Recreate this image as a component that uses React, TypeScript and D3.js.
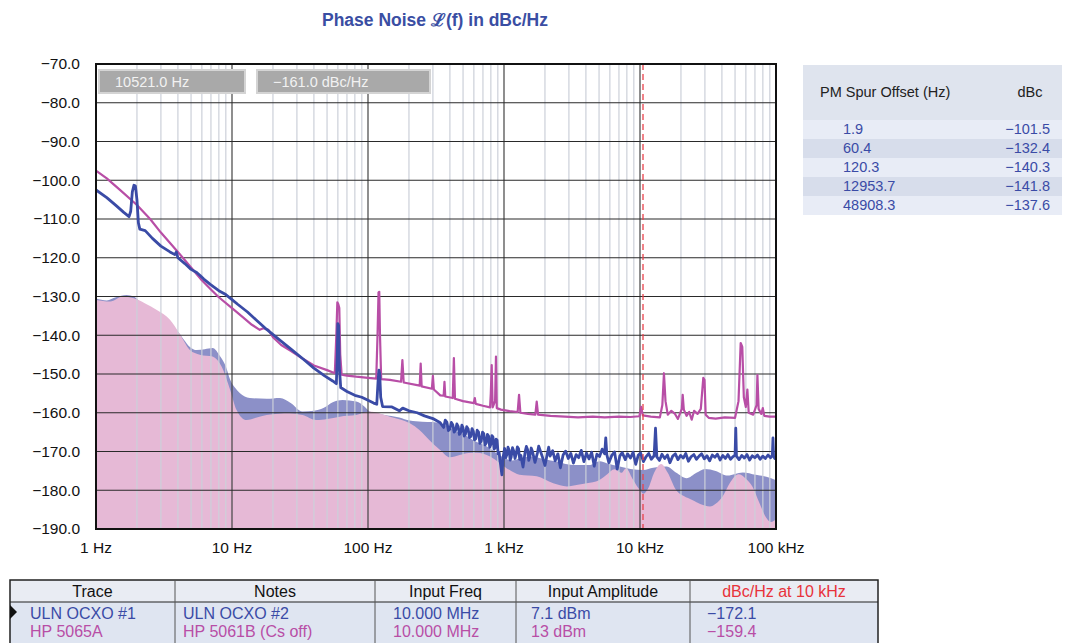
import React, { useEffect, useRef } from 'react';
import * as d3 from 'd3';

const yTicks = [-70, -80, -90, -100, -110, -120, -130, -140, -150, -160, -170, -180, -190];
const xTicks = [1, 10, 100, 1000, 10000, 100000];
const xTickLabels = ['1 Hz', '10 Hz', '100 Hz', '1 kHz', '10 kHz', '100 kHz'];

const markerFreq = 10521.0;
const markerLevel = -161.0;

const spurOffsets = ['1.9', '60.4', '120.3', '12953.7', '48908.3'];
const spurLevels = ['\u2212101.5', '\u2212132.4', '\u2212140.3', '\u2212141.8', '\u2212137.6'];

const tableHeaders = ['Trace', 'Notes', 'Input Freq', 'Input Amplitude', 'dBc/Hz at 10 kHz'];
const traceNames = ['ULN OCXO #1', 'HP 5065A'];
const traceNotes = ['ULN OCXO #2', 'HP 5061B (Cs off)'];
const inputFreqs = ['10.000 MHz', '10.000 MHz'];
const inputAmps = ['7.1 dBm', '13 dBm'];
const at10k = ['\u2212172.1', '\u2212159.4'];

// ULN OCXO #1 measured trace [Hz, dBc/Hz]
const ulnTrace: [number, number][] = [
  [1, -102.5], [1.2, -104.5], [1.4, -106.5], [1.6, -108.3], [1.75, -109.4], [1.8, -108], [1.85, -103],
  [1.9, -101.3], [1.95, -101.5], [2.0, -105], [2.05, -111], [2.1, -112.6], [2.3, -113], [2.6, -115],
  [3.0, -117], [3.5, -118.5], [3.8, -119.2], [3.9, -118.5], [4.0, -120], [4.5, -121.5], [5, -123],
  [5.5, -123.8], [5.8, -124.5], [6.2, -125.5], [7, -127], [8, -128.5], [9, -129.5], [10, -130.8],
  [11, -132], [13, -134], [15, -136], [18, -138.5], [22, -141], [27, -143.5], [33, -146], [40, -148.5],
  [48, -150.5], [55, -151.8], [58.5, -152.5], [59.5, -145], [60, -137], [60.8, -137.5], [61.5, -148],
  [63, -153.5], [70, -154.5], [80, -155.5], [90, -156], [100, -156.8], [110, -157.5], [116, -157.8],
  [118.5, -152], [120.3, -149], [122, -150], [124, -156], [128, -158.4], [150, -158.5], [170, -159.5],
  [180, -158.8], [200, -159.5], [230, -160], [260, -160.8], [300, -161.5], [340, -162.6],
  [360, -163.8], [370, -161.9], [380, -162.4], [390, -164.6], [400, -164.2], [410, -162.5], [420, -163.1],
  [430, -165.0], [440, -164.6], [450, -162.9], [460, -163.5], [470, -165.6], [480, -165.2], [490, -163.2],
  [500, -163.9], [510, -166.0], [520, -165.6], [532, -163.6], [545, -164.2], [558, -166.4], [570, -166.1],
  [582, -164.1], [595, -164.8], [607, -167.0], [620, -166.7], [635, -164.5], [650, -165.0], [665, -167.9],
  [680, -167.3], [695, -165.0], [710, -165.4], [725, -168.3], [740, -167.8], [755, -165.6], [770, -166.0],
  [785, -168.9], [800, -168.2], [815, -165.9], [830, -166.3], [845, -169.4], [860, -169.0], [875, -166.8],
  [890, -167.1], [905, -170.6], [920, -170.2], [945, -173.5], [965, -176.0], [985, -171.5], [1010, -169.2],
  [1030, -171.6], [1050, -170.8], [1070, -168.9], [1090, -169.6], [1110, -172.2], [1130, -171.4],
  [1155, -169.0], [1180, -169.9], [1205, -171.8], [1230, -170.6], [1255, -168.8], [1280, -169.3],
  [1305, -172.0], [1330, -171.0], [1380, -174.0], [1430, -170.1], [1460, -168.7], [1490, -169.5],
  [1520, -172.3], [1550, -171.3], [1585, -169.1], [1620, -170.0], [1690, -172.8], [1760, -170.4],
  [1800, -168.6], [1840, -169.6], [1920, -171.5], [2000, -173.6], [2090, -170.3], [2130, -168.9],
  [2180, -171.2], [2280, -169.8], [2380, -172.4], [2490, -170.6], [2600, -174.2], [2720, -170.9],
  [2840, -169.9], [2970, -171.8], [3100, -170.5], [3240, -173.0], [3390, -170.8], [3540, -171.6],
  [3700, -169.7], [3870, -172.6], [4040, -170.4], [4220, -171.9], [4410, -170.2], [4610, -173.8],
  [4820, -170.7], [5040, -171.3], [5270, -169.4], [5500, -170.6], [5600, -166.5], [5700, -170.8],
  [5900, -172.9], [6200, -171.0], [6500, -170.1], [6800, -174.5], [7100, -171.2], [7400, -170.3],
  [7800, -172.1], [8100, -170.6], [8500, -171.7], [8900, -170.2], [9300, -173.3], [9700, -171.0],
  [10100, -170.4], [10600, -172.6], [11100, -171.3], [11600, -170.5], [12100, -172.0], [12700, -171.1],
  [13000, -164.0], [13300, -171.4], [13900, -172.3], [14500, -170.7], [15200, -171.8], [15900, -170.9],
  [16600, -172.9], [17400, -171.2], [18200, -170.6], [19000, -172.1], [19900, -171.0], [20800, -171.7],
  [21700, -170.5], [22700, -172.5], [23800, -171.3], [24900, -170.8], [26000, -172.0], [27200, -171.2],
  [28400, -170.6], [29700, -171.9], [31100, -171.1], [32500, -172.4], [34000, -170.9], [35500, -171.5],
  [37100, -170.7], [38800, -172.2], [40600, -171.0], [42400, -171.8], [44300, -170.8], [46300, -172.0],
  [48400, -171.3], [50000, -170.9], [50600, -164.0], [51200, -171.2], [53500, -172.1], [56000, -171.0],
  [58500, -171.7], [61200, -170.8], [64000, -172.2], [66900, -171.1], [69900, -171.6], [73100, -170.9],
  [76400, -172.0], [79900, -171.2], [83500, -171.8], [87300, -170.9], [91300, -171.6], [94000, -171.0],
  [95000, -166.5], [96000, -171.3], [98000, -171.8], [100000, -171.4],
];

// HP 5065A measured trace
const hpTrace: [number, number][] = [
  [1, -97.5], [1.2, -99.5], [1.5, -102.5], [2, -106.4], [2.5, -110], [3, -113.5], [4, -118.5], [5, -122.5],
  [6, -125.8], [7, -128.2], [8, -130.2], [10, -133], [12, -135.3], [14, -137.3], [16, -138.6], [17, -138.2],
  [18.5, -138.6], [20, -140.5], [23, -142.5], [27, -144], [33, -146], [40, -147.8], [50, -149], [57, -149.8],
  [58.5, -140], [59.5, -131.5], [60.5, -132], [61.5, -133], [62.5, -145], [64, -150.2], [70, -150.4],
  [82, -150.7], [100, -151], [115, -151.2], [117.5, -140], [119.5, -129], [121, -128.8], [122.5, -140],
  [125, -151.3], [145, -151.5], [175, -152], [179, -146.4], [183, -152.2], [240, -153], [244, -147.3],
  [248, -153.2], [295, -153.8], [300, -150.5], [305, -154], [340, -155.5], [360, -155.6], [365, -152],
  [370, -155.8], [420, -156.2], [428, -145.9], [436, -156.4], [500, -157], [600, -157.5], [610, -156.2],
  [620, -157.7], [700, -158.2], [790, -158.6], [800, -155], [812, -147.7], [825, -158.6], [860, -157],
  [873, -145.5], [885, -158.8], [950, -159.2], [1100, -159.6], [1260, -159.8], [1290, -155.4], [1320, -160],
  [1500, -160.3], [1700, -160.5], [1740, -157.1], [1780, -160.5], [2200, -160.8], [2800, -161], [3500, -161.2],
  [4500, -161], [5500, -161.2], [7000, -161], [8500, -161.1], [9900, -160.9], [10200, -158.5], [10500, -160.7],
  [12000, -161], [14000, -161.2], [14600, -158], [15000, -149.8], [15400, -157], [16000, -160.5],
  [17000, -159.5], [18000, -160.2], [19000, -161.6], [20300, -159], [20600, -155.4], [21000, -159.2],
  [22000, -160.8], [23000, -159.8], [24000, -161.8], [25000, -159.5], [26500, -160.3], [28000, -159],
  [29200, -151], [29800, -151.5], [30400, -160.5], [32000, -161.3], [36000, -161.5], [42000, -161.2],
  [50000, -161.3], [53000, -157], [55000, -142], [56500, -143], [58000, -156], [60000, -158.5],
  [61600, -154], [63000, -160], [68000, -160.5], [72000, -158], [73000, -150.3], [74500, -159],
  [78000, -160.3], [80000, -158.8], [82000, -160.8], [90000, -161], [100000, -161],
];

// system noise floors (filled)
const ulnFloor: [number, number][] = [
  [1, -130.5], [1.2, -131], [1.4, -130.2], [1.68, -129.6], [1.9, -130], [2.1, -131.3], [2.5, -132.8],
  [3, -134.5], [3.5, -136.8], [3.9, -138.6], [4.4, -141], [4.9, -143], [5.5, -143.8], [6.3, -143.6],
  [7.2, -143.3], [8.2, -145.5], [9, -148], [9.7, -151.5], [10.5, -153.5], [11.4, -154.9], [13.5, -156.2],
  [18, -156.4], [22.5, -156.2], [27, -157.5], [33, -159.7], [40, -159.5], [47, -158.8], [55, -157.3],
  [65, -156.7], [82, -157.1], [95, -158.5], [103, -159.7], [130, -160.5], [170, -161.2], [203, -162],
  [250, -162.3], [300, -162.4], [338, -162.7], [400, -163.8], [450, -164.9], [520, -165.8], [590, -167],
  [700, -168.2], [790, -169.2], [960, -171.3], [1150, -172.3], [1300, -171.8], [1560, -171.3], [2000, -172],
  [2430, -172.6], [3200, -173.5], [4230, -173.5], [5070, -172.5], [5680, -173], [7100, -173.9],
  [8500, -174.5], [10600, -174.8], [12500, -174.2], [15700, -173.9], [18500, -175.5], [22000, -176.9],
  [26000, -175.5], [30000, -174.5], [36000, -175], [44000, -176.2], [50000, -175.8], [57000, -175.4],
  [71000, -176], [85000, -176.5], [100000, -177.4],
];

const hpFloor: [number, number][] = [
  [1, -130.9], [1.27, -131.3], [1.58, -130], [1.87, -130.4], [2.3, -131.8], [2.8, -133.5], [3.5, -136],
  [4.1, -139.5], [4.9, -143.8], [5.8, -145], [7.2, -145.5], [8.4, -148.1], [9.7, -154.1], [10.8, -159.3],
  [12.8, -161.9], [15, -161.3], [18, -160.6], [26.6, -160.1], [33, -160.6], [41.7, -161.9], [50, -161.6],
  [62, -161], [82, -160.6], [103, -159.7], [125, -160.3], [145, -161], [175, -161.8], [203, -162.7],
  [240, -164.5], [282, -167], [339, -169.6], [400, -171.5], [472, -170.9], [550, -170.4], [630, -170.3],
  [790, -171.3], [930, -173], [1100, -174.8], [1300, -176], [1500, -176.2], [1740, -176.4], [2300, -178.2],
  [2900, -179], [3500, -178.6], [4060, -178.2], [5000, -177.4], [5680, -176], [6500, -174.6], [7300, -175.5],
  [7900, -174.3], [8800, -177], [10000, -180], [10600, -180.9], [11500, -179.5], [12700, -175.5],
  [14300, -173.2], [16000, -175.5], [18300, -179.8], [21000, -181.5], [24200, -182.5], [28000, -183.6],
  [32700, -184.2], [36000, -183.5], [40500, -181.6], [46000, -178], [53000, -175.9], [60000, -177],
  [67000, -179], [75000, -183], [84500, -187], [92000, -188.2], [100000, -187.5],
];

const BLUE = '#3a4ba6';
const MAGENTA = '#b84ea6';
const FONT = '"Liberation Sans", Arial, sans-serif';
const NARROW = '"Liberation Sans Narrow", "Liberation Sans", Arial, sans-serif';

function PhaseNoiseChart() {
  const svgRef = useRef<SVGSVGElement>(null);

  useEffect(() => {
    const width = 1067;
    const height = 643;
    const left = 96, right = 776, top = 64, bottom = 529;

    const svg = d3.select(svgRef.current).attr('width', width).attr('height', height);
    svg.selectAll('*').remove();

    const x = d3.scaleLog().domain([1, 100000]).range([left, right]);
    const y = d3.scaleLinear().domain([-190, -70]).range([bottom, top]);

    svg.append('rect').attr('width', width).attr('height', height).attr('fill', '#fff');

    svg.append('text')
      .attr('x', 435).attr('y', 26)
      .attr('text-anchor', 'middle')
      .style('font-family', FONT).style('font-size', '17.5px').style('font-weight', 'bold')
      .attr('fill', '#3a4ea3')
      .text('Phase Noise \u2112(f) in dBc/Hz');

    svg.append('defs').append('clipPath').attr('id', 'plotclip')
      .append('rect').attr('x', left).attr('y', top).attr('width', right - left).attr('height', bottom - top);

    const plot = svg.append('g').attr('clip-path', 'url(#plotclip)');

    const area = d3.area<[number, number]>()
      .x((d) => x(d[0]))
      .y0(y(-190))
      .y1((d) => y(d[1]))
      .curve(d3.curveMonotoneX);

    plot.append('path').attr('d', area(ulnFloor)).attr('fill', '#8c90c8');
    plot.append('path').attr('d', area(hpFloor)).attr('fill', '#e6b9d6');

    // minor verticals
    const minor: number[] = [];
    for (let dec = 1; dec < 100000; dec *= 10) {
      for (let k = 2; k <= 9; k++) minor.push(dec * k);
    }
    plot.selectAll('.minor').data(minor).enter().append('line')
      .attr('x1', (d) => x(d)).attr('x2', (d) => x(d))
      .attr('y1', top).attr('y2', bottom)
      .attr('stroke', '#cdd1da').attr('stroke-width', 1.5).attr('opacity', 0.8);

    plot.selectAll('.major').data(xTicks).enter().append('line')
      .attr('x1', (d) => x(d)).attr('x2', (d) => x(d))
      .attr('y1', top).attr('y2', bottom)
      .attr('stroke', '#444').attr('stroke-width', 1.2);

    plot.selectAll('.hgrid').data(yTicks).enter().append('line')
      .attr('x1', left).attr('x2', right)
      .attr('y1', (d) => y(d)).attr('y2', (d) => y(d))
      .attr('stroke', '#2a2a2a').attr('stroke-width', 1.2);

    const line = d3.line<[number, number]>()
      .x((d) => x(d[0]))
      .y((d) => y(d[1]));

    plot.append('path').attr('d', line(hpTrace))
      .attr('fill', 'none').attr('stroke', MAGENTA).attr('stroke-width', 2.2).attr('stroke-linejoin', 'round');
    plot.append('path').attr('d', line(ulnTrace))
      .attr('fill', 'none').attr('stroke', BLUE).attr('stroke-width', 2.8).attr('stroke-linejoin', 'round');

    plot.append('line')
      .attr('x1', x(markerFreq)).attr('x2', x(markerFreq))
      .attr('y1', top).attr('y2', bottom)
      .attr('stroke', '#e8404a').attr('stroke-width', 1.3).attr('stroke-dasharray', '6,4');

    svg.append('rect')
      .attr('x', left).attr('y', top).attr('width', right - left).attr('height', bottom - top)
      .attr('fill', 'none').attr('stroke', '#111').attr('stroke-width', 2);

    // marker readouts
    const readouts = [
      { x0: 99, w: 146, label: `${markerFreq.toFixed(1)} Hz` },
      { x0: 257, w: 173, label: `\u2212${Math.abs(markerLevel).toFixed(1)} dBc/Hz` },
    ];
    readouts.forEach((r) => {
      svg.append('rect').attr('x', r.x0).attr('y', 70).attr('width', r.w).attr('height', 23)
        .attr('fill', '#a9a9a9').attr('stroke', '#d4d4d4').attr('stroke-width', 2);
      svg.append('text').attr('x', r.x0 + 16).attr('y', 87)
        .style('font-family', FONT).style('font-size', '14.5px').attr('fill', '#f2f2f2')
        .text(r.label);
    });

    // y labels
    svg.selectAll('.ylab').data(yTicks).enter().append('text')
      .attr('x', 80).attr('y', (d) => y(d)).attr('dy', '0.35em')
      .attr('text-anchor', 'end')
      .style('font-family', FONT).style('font-size', '15.5px').attr('fill', '#111')
      .text((d) => `\u2212${Math.abs(d).toFixed(1)}`);

    svg.selectAll('.xlab').data(xTicks).enter().append('text')
      .attr('x', (d) => x(d)).attr('y', 553)
      .attr('text-anchor', 'middle')
      .style('font-family', FONT).style('font-size', '15.5px').attr('fill', '#111')
      .text((d, i) => xTickLabels[i]);

    // PM spur table
    const st = svg.append('g');
    st.append('rect').attr('x', 803).attr('y', 65).attr('width', 259).attr('height', 55).attr('fill', '#dfe4ee');
    st.append('text').attr('x', 820).attr('y', 97)
      .style('font-family', FONT).style('font-size', '14.5px').attr('fill', '#222').text('PM Spur Offset (Hz)');
    st.append('text').attr('x', 1030).attr('y', 97).attr('text-anchor', 'middle')
      .style('font-family', FONT).style('font-size', '14.5px').attr('fill', '#222').text('dBc');
    const rowH = 19;
    spurOffsets.forEach((s, i) => {
      const ry = 120 + i * rowH;
      st.append('rect').attr('x', 803).attr('y', ry).attr('width', 259).attr('height', rowH)
        .attr('fill', i % 2 === 0 ? '#e8ecf6' : '#d7ddeb');
      st.append('text').attr('x', 843).attr('y', ry + 14)
        .style('font-family', FONT).style('font-size', '14.5px').attr('fill', BLUE).text(s);
      st.append('text').attr('x', 1050).attr('y', ry + 14).attr('text-anchor', 'end')
        .style('font-family', FONT).style('font-size', '14.5px').attr('fill', BLUE).text(spurLevels[i]);
    });

    // bottom trace table
    const cols = [10, 175, 375, 516, 690, 878];
    const bt = svg.append('g');
    bt.append('rect').attr('x', 10).attr('y', 580).attr('width', 868).attr('height', 22).attr('fill', '#e9ecf3');
    bt.append('rect').attr('x', 10).attr('y', 602).attr('width', 868).attr('height', 45).attr('fill', '#dfe5f1');
    bt.append('rect').attr('x', 10).attr('y', 580).attr('width', 868).attr('height', 70)
      .attr('fill', 'none').attr('stroke', '#222').attr('stroke-width', 1.5);
    bt.append('line').attr('x1', 10).attr('x2', 878).attr('y1', 602).attr('y2', 602)
      .attr('stroke', '#222').attr('stroke-width', 1.2);
    cols.slice(1, -1).forEach((c) => {
      bt.append('line').attr('x1', c).attr('x2', c).attr('y1', 580).attr('y2', 643)
        .attr('stroke', '#555').attr('stroke-width', 1);
    });
    tableHeaders.forEach((h, i) => {
      bt.append('text').attr('x', (cols[i] + cols[i + 1]) / 2).attr('y', 597).attr('text-anchor', 'middle')
        .style('font-family', NARROW).style('font-size', '16px')
        .attr('fill', i === 4 ? '#e8323a' : '#111').text(h);
    });
    bt.append('path').attr('d', 'M10,605 L17,612 L10,619 Z').attr('fill', '#111');
    const rows = [0, 1].map((i) => [traceNames[i], traceNotes[i], inputFreqs[i], inputAmps[i], at10k[i]]);
    const textX = [30, 183, 393, 531, 707];
    rows.forEach((r, ri) => {
      r.forEach((t, ci) => {
        bt.append('text').attr('x', textX[ci]).attr('y', 619 + ri * 18)
          .style('font-family', NARROW).style('font-size', '16px')
          .attr('fill', ri === 0 ? BLUE : MAGENTA).text(t);
      });
    });
  }, []);

  return <svg ref={svgRef} style={{ display: 'block' }}></svg>;
}

export default function App() {
  return (
    <div style={{ position: 'fixed', left: 0, top: 0 }}>
      <PhaseNoiseChart />
    </div>
  );
}
